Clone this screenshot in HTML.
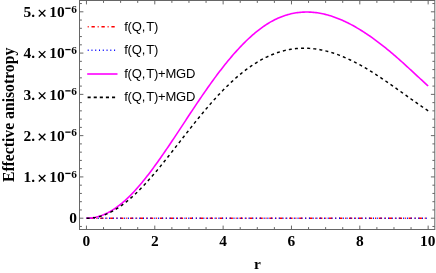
<!DOCTYPE html>
<html><head><meta charset="utf-8"><title>Effective anisotropy</title>
<style>
html,body{margin:0;padding:0;background:#fff;}
svg{display:block;will-change:transform;font-family:"Liberation Serif",serif;font-weight:bold;font-size:15.4px;}
</style></head><body>
<svg width="436" height="273" viewBox="0 0 436 273">
<rect width="436" height="273" fill="#fff"/>
<!-- zero curves -->
<path d="M86.45,218.2 H428.15" stroke="#f00" stroke-width="1.5" fill="none" stroke-dasharray="1 2.8 3.3 2.85"/>
<path d="M86.45,218.2 H428.15" stroke="#00f" stroke-width="1.5" fill="none" stroke-dasharray="1 2.77"/>
<path d="M86.45,218.20 L87.77,218.17 L89.09,218.11 L90.41,218.00 L91.73,217.85 L93.05,217.66 L94.37,217.43 L95.69,217.16 L97.00,216.85 L98.32,216.50 L99.64,216.10 L100.96,215.67 L102.28,215.19 L103.60,214.67 L104.92,214.11 L106.24,213.50 L107.56,212.86 L108.88,212.17 L110.20,211.45 L111.52,210.68 L112.84,209.87 L114.16,209.02 L115.47,208.13 L116.79,207.20 L118.11,206.23 L119.43,205.23 L120.75,204.18 L122.07,203.09 L123.39,201.97 L124.71,200.81 L126.03,199.62 L127.35,198.39 L128.67,197.12 L129.99,195.82 L131.31,194.48 L132.63,193.11 L133.94,191.71 L135.26,190.28 L136.58,188.82 L137.90,187.33 L139.22,185.80 L140.54,184.25 L141.86,182.68 L143.18,181.07 L144.50,179.44 L145.82,177.79 L147.14,176.11 L148.46,174.41 L149.78,172.68 L151.10,170.94 L152.42,169.17 L153.73,167.39 L155.05,165.58 L156.37,163.76 L157.69,161.92 L159.01,160.07 L160.33,158.19 L161.65,156.31 L162.97,154.41 L164.29,152.50 L165.61,150.57 L166.93,148.64 L168.25,146.69 L169.57,144.73 L170.89,142.77 L172.20,140.80 L173.52,138.82 L174.84,136.83 L176.16,134.84 L177.48,132.84 L178.80,130.84 L180.12,128.84 L181.44,126.84 L182.76,124.83 L184.08,122.82 L185.40,120.82 L186.72,118.81 L188.04,116.81 L189.36,114.81 L190.68,112.81 L191.99,110.82 L193.31,108.84 L194.63,106.86 L195.95,104.88 L197.27,102.92 L198.59,100.96 L199.91,99.02 L201.23,97.08 L202.55,95.15 L203.87,93.24 L205.19,91.33 L206.51,89.44 L207.83,87.57 L209.15,85.70 L210.46,83.85 L211.78,82.02 L213.10,80.20 L214.42,78.40 L215.74,76.61 L217.06,74.84 L218.38,73.09 L219.70,71.36 L221.02,69.65 L222.34,67.95 L223.66,66.27 L224.98,64.62 L226.30,62.98 L227.62,61.36 L228.93,59.76 L230.25,58.19 L231.57,56.63 L232.89,55.10 L234.21,53.59 L235.53,52.10 L236.85,50.64 L238.17,49.19 L239.49,47.77 L240.81,46.38 L242.13,45.01 L243.45,43.66 L244.77,42.33 L246.09,41.04 L247.41,39.76 L248.72,38.52 L250.04,37.30 L251.36,36.11 L252.68,34.94 L254.00,33.80 L255.32,32.69 L256.64,31.61 L257.96,30.56 L259.28,29.53 L260.60,28.54 L261.92,27.57 L263.24,26.64 L264.56,25.73 L265.88,24.86 L267.19,24.01 L268.51,23.20 L269.83,22.41 L271.15,21.66 L272.47,20.93 L273.79,20.24 L275.11,19.57 L276.43,18.94 L277.75,18.33 L279.07,17.75 L280.39,17.20 L281.71,16.69 L283.03,16.20 L284.35,15.73 L285.67,15.30 L286.98,14.89 L288.30,14.52 L289.62,14.17 L290.94,13.84 L292.26,13.55 L293.58,13.28 L294.90,13.04 L296.22,12.82 L297.54,12.63 L298.86,12.47 L300.18,12.33 L301.50,12.22 L302.82,12.14 L304.14,12.08 L305.45,12.04 L306.77,12.03 L308.09,12.05 L309.41,12.09 L310.73,12.15 L312.05,12.24 L313.37,12.35 L314.69,12.48 L316.01,12.64 L317.33,12.82 L318.65,13.02 L319.97,13.25 L321.29,13.50 L322.61,13.77 L323.92,14.06 L325.24,14.38 L326.56,14.71 L327.88,15.07 L329.20,15.45 L330.52,15.85 L331.84,16.27 L333.16,16.71 L334.48,17.17 L335.80,17.65 L337.12,18.14 L338.44,18.66 L339.76,19.20 L341.08,19.76 L342.40,20.33 L343.71,20.93 L345.03,21.54 L346.35,22.17 L347.67,22.81 L348.99,23.48 L350.31,24.16 L351.63,24.86 L352.95,25.57 L354.27,26.30 L355.59,27.05 L356.91,27.82 L358.23,28.60 L359.55,29.39 L360.87,30.20 L362.18,31.03 L363.50,31.87 L364.82,32.72 L366.14,33.59 L367.46,34.47 L368.78,35.37 L370.10,36.28 L371.42,37.20 L372.74,38.14 L374.06,39.09 L375.38,40.06 L376.70,41.03 L378.02,42.02 L379.34,43.02 L380.66,44.04 L381.97,45.06 L383.29,46.10 L384.61,47.15 L385.93,48.21 L387.25,49.28 L388.57,50.37 L389.89,51.46 L391.21,52.57 L392.53,53.68 L393.85,54.81 L395.17,55.95 L396.49,57.09 L397.81,58.25 L399.13,59.41 L400.44,60.58 L401.76,61.76 L403.08,62.95 L404.40,64.14 L405.72,65.34 L407.04,66.54 L408.36,67.75 L409.68,68.97 L411.00,70.18 L412.32,71.41 L413.64,72.63 L414.96,73.85 L416.28,75.08 L417.60,76.30 L418.91,77.52 L420.23,78.75 L421.55,79.96 L422.87,81.18 L424.19,82.39 L425.51,83.59 L426.83,84.79 L428.15,85.98" stroke="#f0f" stroke-width="1.6" fill="none" stroke-linejoin="round"/>
<path d="M86.45,218.20 L87.77,218.19 L89.09,218.16 L90.41,218.09 L91.73,217.98 L93.05,217.83 L94.37,217.64 L95.69,217.41 L97.00,217.14 L98.32,216.83 L99.64,216.49 L100.96,216.10 L102.28,215.68 L103.60,215.23 L104.92,214.73 L106.24,214.20 L107.56,213.63 L108.88,213.03 L110.20,212.39 L111.52,211.71 L112.84,211.00 L114.16,210.26 L115.47,209.48 L116.79,208.66 L118.11,207.82 L119.43,206.94 L120.75,206.02 L122.07,205.08 L123.39,204.10 L124.71,203.10 L126.03,202.06 L127.35,200.99 L128.67,199.90 L129.99,198.77 L131.31,197.62 L132.63,196.44 L133.94,195.23 L135.26,194.00 L136.58,192.74 L137.90,191.45 L139.22,190.14 L140.54,188.80 L141.86,187.45 L143.18,186.07 L144.50,184.66 L145.82,183.24 L147.14,181.80 L148.46,180.33 L149.78,178.85 L151.10,177.35 L152.42,175.83 L153.73,174.29 L155.05,172.74 L156.37,171.18 L157.69,169.59 L159.01,168.00 L160.33,166.39 L161.65,164.77 L162.97,163.14 L164.29,161.50 L165.61,159.85 L166.93,158.19 L168.25,156.53 L169.57,154.85 L170.89,153.17 L172.20,151.49 L173.52,149.80 L174.84,148.11 L176.16,146.42 L177.48,144.72 L178.80,143.03 L180.12,141.33 L181.44,139.64 L182.76,137.94 L184.08,136.25 L185.40,134.56 L186.72,132.88 L188.04,131.20 L189.36,129.52 L190.68,127.85 L191.99,126.18 L193.31,124.53 L194.63,122.88 L195.95,121.23 L197.27,119.60 L198.59,117.98 L199.91,116.36 L201.23,114.76 L202.55,113.17 L203.87,111.59 L205.19,110.02 L206.51,108.46 L207.83,106.92 L209.15,105.39 L210.46,103.87 L211.78,102.37 L213.10,100.89 L214.42,99.42 L215.74,97.96 L217.06,96.52 L218.38,95.10 L219.70,93.70 L221.02,92.31 L222.34,90.94 L223.66,89.59 L224.98,88.26 L226.30,86.95 L227.62,85.65 L228.93,84.38 L230.25,83.12 L231.57,81.89 L232.89,80.67 L234.21,79.48 L235.53,78.31 L236.85,77.15 L238.17,76.02 L239.49,74.91 L240.81,73.82 L242.13,72.76 L243.45,71.71 L244.77,70.69 L246.09,69.69 L247.41,68.72 L248.72,67.76 L250.04,66.83 L251.36,65.92 L252.68,65.03 L254.00,64.17 L255.32,63.33 L256.64,62.51 L257.96,61.72 L259.28,60.94 L260.60,60.19 L261.92,59.47 L263.24,58.76 L264.56,58.08 L265.88,57.43 L267.19,56.79 L268.51,56.18 L269.83,55.59 L271.15,55.03 L272.47,54.48 L273.79,53.97 L275.11,53.47 L276.43,52.99 L277.75,52.54 L279.07,52.12 L280.39,51.71 L281.71,51.33 L283.03,50.97 L284.35,50.63 L285.67,50.31 L286.98,50.02 L288.30,49.75 L289.62,49.50 L290.94,49.27 L292.26,49.07 L293.58,48.89 L294.90,48.73 L296.22,48.59 L297.54,48.47 L298.86,48.38 L300.18,48.30 L301.50,48.25 L302.82,48.22 L304.14,48.21 L305.45,48.22 L306.77,48.25 L308.09,48.30 L309.41,48.38 L310.73,48.47 L312.05,48.59 L313.37,48.72 L314.69,48.88 L316.01,49.05 L317.33,49.24 L318.65,49.46 L319.97,49.69 L321.29,49.94 L322.61,50.22 L323.92,50.51 L325.24,50.81 L326.56,51.14 L327.88,51.49 L329.20,51.85 L330.52,52.23 L331.84,52.63 L333.16,53.05 L334.48,53.49 L335.80,53.94 L337.12,54.41 L338.44,54.89 L339.76,55.39 L341.08,55.91 L342.40,56.45 L343.71,56.99 L345.03,57.56 L346.35,58.14 L347.67,58.74 L348.99,59.35 L350.31,59.97 L351.63,60.61 L352.95,61.26 L354.27,61.93 L355.59,62.61 L356.91,63.30 L358.23,64.00 L359.55,64.72 L360.87,65.45 L362.18,66.19 L363.50,66.95 L364.82,67.71 L366.14,68.49 L367.46,69.28 L368.78,70.07 L370.10,70.88 L371.42,71.70 L372.74,72.52 L374.06,73.36 L375.38,74.20 L376.70,75.06 L378.02,75.92 L379.34,76.79 L380.66,77.66 L381.97,78.55 L383.29,79.43 L384.61,80.33 L385.93,81.23 L387.25,82.14 L388.57,83.05 L389.89,83.97 L391.21,84.89 L392.53,85.82 L393.85,86.75 L395.17,87.68 L396.49,88.61 L397.81,89.55 L399.13,90.49 L400.44,91.43 L401.76,92.38 L403.08,93.32 L404.40,94.26 L405.72,95.21 L407.04,96.15 L408.36,97.09 L409.68,98.03 L411.00,98.97 L412.32,99.91 L413.64,100.84 L414.96,101.77 L416.28,102.70 L417.60,103.62 L418.91,104.54 L420.23,105.45 L421.55,106.36 L422.87,107.26 L424.19,108.16 L425.51,109.05 L426.83,109.93 L428.15,110.80" stroke="#000" stroke-width="1.45" fill="none" stroke-dasharray="3.0 3.14" stroke-dashoffset="-0.3" stroke-linejoin="round"/>
<!-- frame -->
<rect x="79.5" y="0.5" width="355.3" height="229.0" fill="none" stroke="#666" stroke-width="1"/>
<path d="M86.45,229.5 v-3.9 M86.45,0.5 v3.9 M103.53,229.5 v-2.4 M103.53,0.5 v2.4 M120.62,229.5 v-2.4 M120.62,0.5 v2.4 M137.71,229.5 v-2.4 M137.71,0.5 v2.4 M154.79,229.5 v-3.9 M154.79,0.5 v3.9 M171.88,229.5 v-2.4 M171.88,0.5 v2.4 M188.96,229.5 v-2.4 M188.96,0.5 v2.4 M206.05,229.5 v-2.4 M206.05,0.5 v2.4 M223.13,229.5 v-3.9 M223.13,0.5 v3.9 M240.22,229.5 v-2.4 M240.22,0.5 v2.4 M257.30,229.5 v-2.4 M257.30,0.5 v2.4 M274.38,229.5 v-2.4 M274.38,0.5 v2.4 M291.47,229.5 v-3.9 M291.47,0.5 v3.9 M308.56,229.5 v-2.4 M308.56,0.5 v2.4 M325.64,229.5 v-2.4 M325.64,0.5 v2.4 M342.73,229.5 v-2.4 M342.73,0.5 v2.4 M359.81,229.5 v-3.9 M359.81,0.5 v3.9 M376.89,229.5 v-2.4 M376.89,0.5 v2.4 M393.98,229.5 v-2.4 M393.98,0.5 v2.4 M411.06,229.5 v-2.4 M411.06,0.5 v2.4 M428.15,229.5 v-3.9 M428.15,0.5 v3.9 M79.5,226.46 h2.4 M434.8,226.46 h-2.4 M79.5,218.20 h3.9 M434.8,218.20 h-3.9 M79.5,209.94 h2.4 M434.8,209.94 h-2.4 M79.5,201.69 h2.4 M434.8,201.69 h-2.4 M79.5,193.43 h2.4 M434.8,193.43 h-2.4 M79.5,185.18 h2.4 M434.8,185.18 h-2.4 M79.5,176.92 h3.9 M434.8,176.92 h-3.9 M79.5,168.66 h2.4 M434.8,168.66 h-2.4 M79.5,160.41 h2.4 M434.8,160.41 h-2.4 M79.5,152.15 h2.4 M434.8,152.15 h-2.4 M79.5,143.90 h2.4 M434.8,143.90 h-2.4 M79.5,135.64 h3.9 M434.8,135.64 h-3.9 M79.5,127.38 h2.4 M434.8,127.38 h-2.4 M79.5,119.13 h2.4 M434.8,119.13 h-2.4 M79.5,110.87 h2.4 M434.8,110.87 h-2.4 M79.5,102.62 h2.4 M434.8,102.62 h-2.4 M79.5,94.36 h3.9 M434.8,94.36 h-3.9 M79.5,86.10 h2.4 M434.8,86.10 h-2.4 M79.5,77.85 h2.4 M434.8,77.85 h-2.4 M79.5,69.59 h2.4 M434.8,69.59 h-2.4 M79.5,61.34 h2.4 M434.8,61.34 h-2.4 M79.5,53.08 h3.9 M434.8,53.08 h-3.9 M79.5,44.82 h2.4 M434.8,44.82 h-2.4 M79.5,36.57 h2.4 M434.8,36.57 h-2.4 M79.5,28.31 h2.4 M434.8,28.31 h-2.4 M79.5,20.06 h2.4 M434.8,20.06 h-2.4 M79.5,11.80 h3.9 M434.8,11.80 h-3.9 M79.5,3.54 h2.4 M434.8,3.54 h-2.4" stroke="#666" stroke-width="1" fill="none"/>
<!-- legend -->
<path d="M87.2,26.8 H117.5" stroke="#f00" stroke-width="1.5" stroke-dasharray="1 2.8 3.3 2.85" stroke-dashoffset="-0.5"/>
<path d="M87.2,50.2 H117.5" stroke="#00f" stroke-width="1.5" stroke-dasharray="1 2.77" stroke-dashoffset="-0.5"/>
<path d="M87.2,74 H117.5" stroke="#f0f" stroke-width="1.6"/>
<path d="M87.2,97.4 H117.5" stroke="#000" stroke-width="1.6" stroke-dasharray="3.1 3" stroke-dashoffset="-0.4"/>
<text y="30.70" font-family="Liberation Sans, sans-serif" font-size="13.0" font-weight="normal" fill="#000" letter-spacing="-0.2"><tspan x="124.2">f(Q,</tspan><tspan dx="1.1">T)</tspan></text>
<text y="54.10" font-family="Liberation Sans, sans-serif" font-size="13.0" font-weight="normal" fill="#000" letter-spacing="-0.2"><tspan x="124.2">f(Q,</tspan><tspan dx="1.1">T)</tspan></text>
<text y="77.90" font-family="Liberation Sans, sans-serif" font-size="13.0" font-weight="normal" fill="#000" letter-spacing="-0.2"><tspan x="124.2">f(Q,</tspan><tspan dx="1.1">T)+MGD</tspan></text>
<text y="101.30" font-family="Liberation Sans, sans-serif" font-size="13.0" font-weight="normal" fill="#000" letter-spacing="-0.2"><tspan x="124.2">f(Q,</tspan><tspan dx="1.1">T)+MGD</tspan></text>
<!-- labels -->
<g fill="#000">
<text x="86.45" y="245.6" text-anchor="middle">0</text><text x="154.79" y="245.6" text-anchor="middle">2</text><text x="223.13" y="245.6" text-anchor="middle">4</text><text x="291.47" y="245.6" text-anchor="middle">6</text><text x="359.81" y="245.6" text-anchor="middle">8</text><text x="427.75" y="245.6" text-anchor="middle">10</text>
<text y="182.17"><tspan x="23.6">1.</tspan><tspan x="49.2">10</tspan><tspan x="71.2" dy="-4.5" font-size="11.30">6</tspan></text><path d="M65.3,173.42 h5.3" stroke="#000" stroke-width="1.3" fill="none"/><path d="M38.8,174.97 l6.6,6.6 m0,-6.6 l-6.6,6.6" stroke="#000" stroke-width="1.3" fill="none"/><text y="140.89"><tspan x="23.6">2.</tspan><tspan x="49.2">10</tspan><tspan x="71.2" dy="-4.5" font-size="11.30">6</tspan></text><path d="M65.3,132.14 h5.3" stroke="#000" stroke-width="1.3" fill="none"/><path d="M38.8,133.69 l6.6,6.6 m0,-6.6 l-6.6,6.6" stroke="#000" stroke-width="1.3" fill="none"/><text y="99.61"><tspan x="23.6">3.</tspan><tspan x="49.2">10</tspan><tspan x="71.2" dy="-4.5" font-size="11.30">6</tspan></text><path d="M65.3,90.86 h5.3" stroke="#000" stroke-width="1.3" fill="none"/><path d="M38.8,92.41 l6.6,6.6 m0,-6.6 l-6.6,6.6" stroke="#000" stroke-width="1.3" fill="none"/><text y="58.33"><tspan x="23.6">4.</tspan><tspan x="49.2">10</tspan><tspan x="71.2" dy="-4.5" font-size="11.30">6</tspan></text><path d="M65.3,49.58 h5.3" stroke="#000" stroke-width="1.3" fill="none"/><path d="M38.8,51.13 l6.6,6.6 m0,-6.6 l-6.6,6.6" stroke="#000" stroke-width="1.3" fill="none"/><text y="17.05"><tspan x="23.6">5.</tspan><tspan x="49.2">10</tspan><tspan x="71.2" dy="-4.5" font-size="11.30">6</tspan></text><path d="M65.3,8.30 h5.3" stroke="#000" stroke-width="1.3" fill="none"/><path d="M38.8,9.85 l6.6,6.6 m0,-6.6 l-6.6,6.6" stroke="#000" stroke-width="1.3" fill="none"/><text x="77.0" y="223.30" text-anchor="end">0</text>
<text x="257.5" y="268.5" text-anchor="middle">r</text>
<text transform="translate(14.0,114.9) rotate(-90)" text-anchor="middle" font-size="15.7">Effective anisotropy</text>
</g>
</svg>
</body></html>
